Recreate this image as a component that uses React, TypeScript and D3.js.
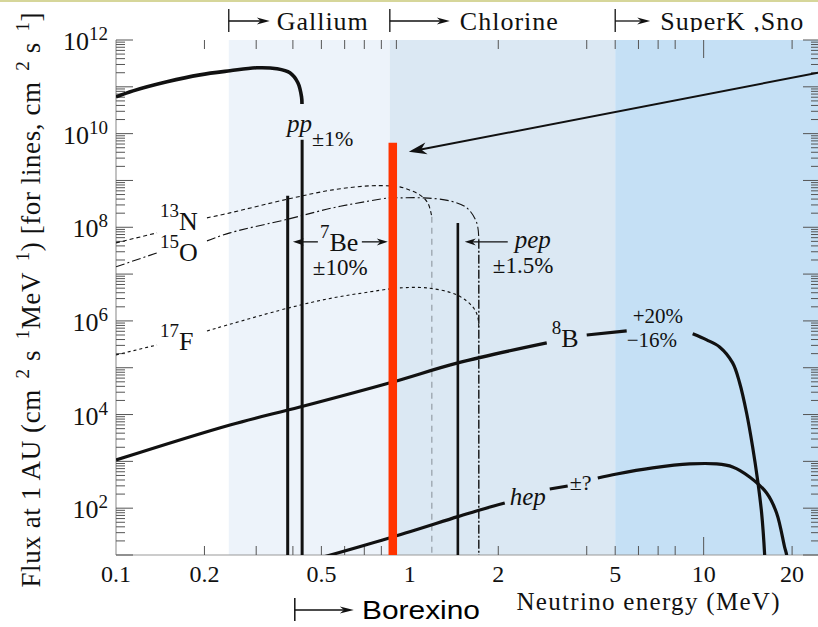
import * as d3 from "d3";

// energy in MeV, flux at 1 AU (cm^-2 s^-1 MeV^-1)
const ppSpectrum = [
  [0.1, 6.1e10], [0.1143, 8.2e10], [0.1491, 1.28e11], [0.1931, 1.8e11], [0.2443, 2.2e11],
  [0.3017, 2.55e11], [0.3528, 2.43e11], [0.3907, 1.99e11], [0.4159, 1.22e11], [0.428, 6.1e10], [0.4295, 4.3e10],
];
const n13Segments = [
  [[0.1, 4.65e7], [0.1379, 7.6e7]],
  [[0.204, 1.59e8], [0.2443, 2.03e8], [0.3877, 4.05e8], [0.5471, 6.3e8], [0.731, 7.67e8], [0.855, 7.67e8],
   [0.925, 7.29e8], [1.081, 4.92e8], [1.151, 3.32e8], [1.188, 1.67e8]],
];
const o15Segments = [
  [[0.1, 1.43e7], [0.1379, 2.84e7]],
  [[0.204, 5.12e7], [0.2443, 7.6e7], [0.3877, 1.51e8], [0.5471, 2.6e8], [0.731, 3.66e8], [0.855, 4.25e8],
   [0.925, 4.25e8], [1.107, 4.25e8], [1.368, 3.66e8], [1.563, 2.6e8], [1.69, 1.24e8], [1.717, 5.4e7]],
];
const f17Segments = [
  [[0.1, 1.88e5], [0.1379, 3.07e5]],
  [[0.204, 6.11e5], [0.3877, 1.9e6], [0.5471, 3.1e6], [0.731, 4.17e6], [0.855, 4.83e6], [0.925, 5.07e6],
   [1.142, 5.07e6], [1.445, 3.6e6], [1.638, 1.99e6], [1.703, 1.22e6], [1.717, 6.5e5]],
];
const b8Segments = [
  [[0.1, 1.07e3], [0.2443, 6.0e3], [0.4226, 1.45e4], [0.8753, 4.97e4], [1.457, 1.27e5], [2.924, 3.39e5]],
  [[4.0, 5.0e5], [5.471, 6.1e5]],
  [[9.176, 5.3e5], [10.24, 3.93e5], [11.33, 2.78e5], [12.55, 1.27e5], [13.26, 4.73e4], [14.0, 1.08e4],
   [14.68, 2.03e3], [15.26, 401], [15.75, 79], [16.13, 10], [16.2, 5]],
];
const hepSegments = [
  [[0.49, 8.5], [0.875, 24.3], [1.457, 66], [1.73, 91.6], [2.104, 129]],
  [[2.994, 257], [3.446, 298]],
  [[4.362, 442], [5.06, 538], [6.709, 723], [8.963, 880], [11.07, 880], [12.55, 759], [14.34, 464],
   [16.38, 211], [17.71, 79], [18.86, 14.8], [19.16, 10], [19.25, 6]],
];
// endpoints where the CNO spectra drop to zero
const n13End = 1.188;
const o15End = 1.717;

// monochromatic lines (cm^-2 s^-1)
const lineEnergies = [0.384, 0.43, 1.457];
const lineFluxes = [4.7e8, 7.4e9, 1.24e8];
const borexinoLine = { e: 0.875, flux: 6.35e9 };

// detector thresholds (MeV)
const detectorNames = ["Gallium", "Chlorine", "SuperK ,Sno"];
const detectorThresholds = [0.242, 0.855, 5];
const borexinoThreshold = 0.406;

const xMinorTicks = [0.2, 0.3, 0.4, 0.5, 0.6, 0.7, 0.8, 0.9, 2, 4, 5, 6, 7, 8, 20];
const xMajorTicks = [10];
const xTickLabels = [0.1, 0.2, 0.5, 1, 2, 5, 10, 20];
const yTickPowers = [2, 4, 6, 8, 10, 12];

const x = d3.scaleLog().domain([0.1, 24.5]).range([116, 818]);
const y = d3.scaleLog().domain([10, 1e12]).range([555, 40]);

const regionColors = ["#edf3fa", "#dbe8f3", "#c5e0f5"];

const line = d3.line<number[]>().x(d => x(d[0])).y(d => y(d[1])).curve(d3.curveCatmullRom.alpha(0.5));

const head = (tx: number, ty: number, ang: number, len: number, wid: number) => {
  const c = Math.cos(ang), s = Math.sin(ang);
  const p = (u: number, v: number) => [tx + u * c - v * s, ty + u * s + v * c].map(v => v.toFixed(1)).join(",");
  return `M${tx},${ty}L${p(-len, -wid / 2)}L${p(-len * 0.7, 0)}L${p(-len, wid / 2)}Z`;
};

const Arrow = ({ x1, y1, x2, y2, len = 12, wid = 7, sw = 1.3 }) => {
  const ang = Math.atan2(y2 - y1, x2 - x1);
  return (
    <g>
      <line x1={x1} y1={y1} x2={x2 - Math.cos(ang) * len * 0.6} y2={y2 - Math.sin(ang) * len * 0.6} stroke="#111" strokeWidth={sw} />
      <path d={head(x2, y2, ang, len, wid)} fill="#111" />
    </g>
  );
};

// isotope label with leading superscript mass number
const Iso = ({ e, f, mass, sym }) => (
  <text x={x(e)} y={y(f)} fontSize={26} fill="#111">
    <tspan fontSize={19} dy={-13}>{mass}</tspan>
    <tspan dy={13}>{sym}</tspan>
  </text>
);

export default function App() {
  const xEnd = x.domain()[1];
  const yTicks = y.ticks(40);
  const bounds = [...detectorThresholds, xEnd];

  return (
    <svg width={818} height={627} style={{ position: "absolute", left: 0, top: 0, background: "#fff" }}
      fontFamily="'Liberation Serif', serif">
      <defs>
        <clipPath id="plot"><rect x={116} y={40} width={702} height={515} /></clipPath>
        <clipPath id="top"><rect x={0} y={0} width={818} height={32} /></clipPath>
      </defs>
      <rect x={0} y={0} width={818} height={627} fill="#fff" />
      <line x1={0} x2={818} y1={1} y2={1} stroke="#d6d69a" strokeWidth={2} />

      {/* detector regions */}
      {detectorThresholds.map((t, i) => (
        <rect key={i} x={x(t)} y={40} width={x(bounds[i + 1]) - x(t)} height={515} fill={regionColors[i]} />
      ))}

      {/* axes */}
      <line x1={116} x2={116} y1={40} y2={555} stroke="#999" strokeWidth={1.2} />
      <line x1={116} x2={818} y1={555} y2={555} stroke="#999" strokeWidth={1.2} />
      {yTicks.map((t, i) => {
        const major = Math.abs(Math.log10(t) - Math.round(Math.log10(t))) < 1e-6;
        const l = major ? 17 : 9;
        return (
          <g key={i} stroke="#555" strokeWidth={1}>
            <line x1={116} x2={116 + l} y1={y(t)} y2={y(t)} />
            <line x1={818} x2={818 - l + 2} y1={y(t)} y2={y(t)} />
          </g>
        );
      })}
      {[...xMinorTicks.map(t => [t, 9]), ...xMajorTicks.map(t => [t, 18])].map(([t, l], i) => (
        <g key={i} stroke="#555" strokeWidth={1}>
          <line x1={x(t)} x2={x(t)} y1={555} y2={555 - l} />
          <line x1={x(t)} x2={x(t)} y1={40} y2={40 + l} />
        </g>
      ))}
      {yTickPowers.map(p => (
        <text key={p} x={108} y={y(10 ** p) + 10} textAnchor="end" fontSize={26} fill="#111">
          10<tspan fontSize={19} dy={-10}>{p}</tspan>
        </text>
      ))}
      {xTickLabels.map(t => (
        <text key={t} x={x(t)} y={582} textAnchor="middle" fontSize={24} fill="#111">{t}</text>
      ))}
      <text x={648} y={610} textAnchor="middle" fontSize={25} fill="#111" textLength={263} lengthAdjust="spacing">
        Neutrino energy (MeV)
      </text>
      <text transform="translate(40,300) rotate(-90)" textAnchor="middle" fontSize={27} fill="#111"
        textLength={575} lengthAdjust="spacing">
        Flux at 1 AU (cm<tspan fontSize={19} dy={-11}>{"\u00a0\u00a02"}</tspan>
        <tspan dy={11}> s</tspan><tspan fontSize={19} dy={-11}>{"\u00a0\u00a01"}</tspan>
        <tspan dy={11}>MeV</tspan><tspan fontSize={19} dy={-11}>{"\u00a0\u00a01"}</tspan>
        <tspan dy={11}>) [for lines, cm</tspan><tspan fontSize={19} dy={-11}>{"\u00a0\u00a02"}</tspan>
        <tspan dy={11}> s</tspan><tspan fontSize={19} dy={-11}>{"\u00a0\u00a01"}</tspan>
        <tspan dy={11}>]</tspan>
      </text>

      {/* spectra */}
      <g clipPath="url(#plot)" fill="none" stroke="#111">
        <path d={line(ppSpectrum)} strokeWidth={3.6} />
        {n13Segments.map((s, i) => <path key={"n" + i} d={line(s)} strokeWidth={1.1} strokeDasharray="4,3" />)}
        <line x1={x(n13End)} x2={x(n13End)} y1={y(n13Segments[1][n13Segments[1].length - 1][1])} y2={556}
          stroke="#9aa3ad" strokeWidth={1.3} strokeDasharray="6,5" />
        {o15Segments.map((s, i) => <path key={"o" + i} d={line(s)} strokeWidth={1.1} strokeDasharray="9,3,2,3" />)}
        <line x1={x(o15End)} x2={x(o15End)} y1={y(o15Segments[1][o15Segments[1].length - 1][1])} y2={556}
          strokeWidth={1.4} strokeDasharray="9,2,2,2" />
        {f17Segments.map((s, i) => <path key={"f" + i} d={line(s)} strokeWidth={1.1} strokeDasharray="3,3" />)}
        {b8Segments.map((s, i) => <path key={"b" + i} d={line(s)} strokeWidth={3.2} />)}
        {hepSegments.map((s, i) => <path key={"h" + i} d={line(s)} strokeWidth={3.2} />)}
        {lineEnergies.map((e, i) => (
          <line key={"l" + i} x1={x(e)} x2={x(e)} y1={y(lineFluxes[i])} y2={556} strokeWidth={i === 2 ? 2.6 : 3} />
        ))}
        <line x1={x(borexinoLine.e)} x2={x(borexinoLine.e)} y1={y(borexinoLine.flux)} y2={556}
          stroke="#ff3300" strokeWidth={8.5} />
      </g>

      {/* spectrum labels */}
      <text x={x(0.3816)} y={y(1.09e10)} fontSize={25} fontStyle="italic" fill="#111">pp</text>
      <text x={x(0.4642)} y={y(5.5e9)} fontSize={22} fill="#111">±1%</text>
      <Iso e={0.1411} f={8.8e7} mass="13" sym="N" />
      <Iso e={0.1411} f={1.91e7} mass="15" sym="O" />
      <Iso e={0.1411} f={2.4e5} mass="17" sym="F" />
      <Iso e={0.4943} f={3.13e7} mass="7" sym="Be" />
      <text x={x(0.4677)} y={y(9.6e6)} fontSize={23} fill="#111">±10%</text>
      <Arrow x1={x(0.4865)} y1={y(4.88e7)} x2={x(0.4)} y2={y(4.88e7)} len={11} wid={7} />
      <Arrow x1={x(0.6866)} y1={y(4.88e7)} x2={x(0.8416)} y2={y(4.88e7)} len={11} wid={7} />
      <text x={x(2.276)} y={y(3.63e7)} fontSize={25} fontStyle="italic" fill="#111">pep</text>
      <text x={x(1.916)} y={y(1.06e7)} fontSize={23} fill="#111">±1.5%</text>
      <Arrow x1={x(2.154)} y1={y(4.88e7)} x2={x(1.538)} y2={y(4.88e7)} len={11} wid={7} />
      <Iso e={3.041} f={2.78e5} mass="8" sym="B" />
      <text x={x(5.735)} y={y(9.2e5)} fontSize={21} fill="#111">+20%</text>
      <text x={x(5.471)} y={y(2.78e5)} fontSize={21} fill="#111">−16%</text>
      <text x={x(2.188)} y={y(117)} fontSize={25} fontStyle="italic" fill="#111">hep</text>
      <text x={x(3.5)} y={y(245)} fontSize={22} fill="#111">±?</text>

      {/* Borexino arrow from the right edge */}
      <Arrow x1={x(xEnd)} y1={y(2.0e11)} x2={x(0.992)} y2={y(4.08e9)} len={18} wid={12} sw={2} />

      {/* detector threshold labels */}
      <g clipPath="url(#top)">
        {detectorThresholds.map((t, i) => {
          const bx = x(t);
          const arrowLen = [41, 60, 35][i];
          const gap = [48, 70, 45][i];
          const widths = [91, 98, 143][i];
          return (
            <g key={i}>
              <line x1={bx} x2={bx} y1={9} y2={33} stroke="#111" strokeWidth={1.3} />
              <Arrow x1={bx} y1={21} x2={bx + arrowLen} y2={21} len={13} wid={7} />
              <text x={bx + gap} y={30} fontSize={26} fill="#111" textLength={widths} lengthAdjust="spacing">
                {detectorNames[i]}
              </text>
            </g>
          );
        })}
      </g>

      <line x1={x(borexinoThreshold)} x2={x(borexinoThreshold)} y1={598} y2={621} stroke="#111" strokeWidth={1.5} />
      <Arrow x1={x(borexinoThreshold)} y1={610} x2={x(borexinoThreshold) + 59} y2={610} len={14} wid={7} />
      <text x={362} y={619} fontSize={26} fontFamily="'Liberation Sans', Arial, sans-serif" fill="#000"
        textLength={118} lengthAdjust="spacingAndGlyphs">Borexino</text>
    </svg>
  );
}
